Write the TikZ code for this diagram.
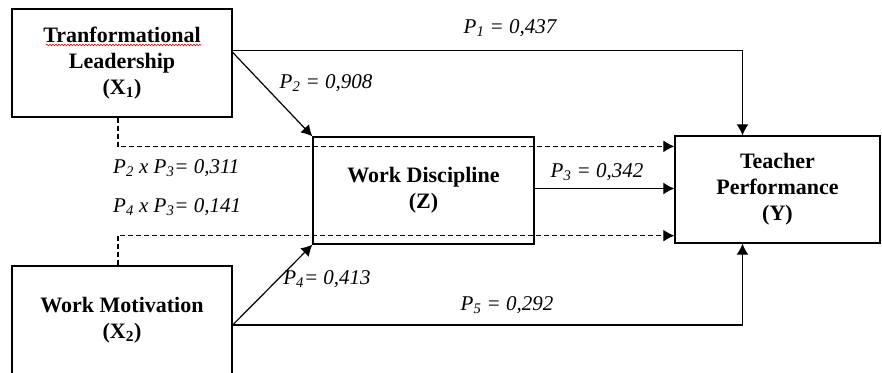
\documentclass[tikz,border=0pt]{standalone}
\usepackage{fontspec}
\setmainfont{Liberation Serif}
\usetikzlibrary{positioning,arrows.meta,decorations.pathmorphing}

\begin{document}
\begin{tikzpicture}[x=1pt, y=-1pt,
  blk/.style={draw, line width=1.3pt, minimum width=220pt, minimum height=108pt,
              inner sep=0pt, align=center, font=\bfseries\fontsize{22}{26}\selectfont},
  lbl/.style={font=\itshape\fontsize{21}{24}\selectfont, inner sep=0pt},
  arr/.style={-{Latex[length=11pt,width=12pt]}, line width=1.2pt},
  darr/.style={arr, dash pattern=on 5pt off 3pt},
]
  \clip (0,0) rectangle (882,372);

  % constructs
  \node[blk] (x1) at (122,63) {Tranformational\\Leadership\\(X\textsubscript{1})};
  \node[blk, minimum width=221pt, minimum height=107pt] (z) at (423.5,190.5) {Work Discipline\\(Z)};
  \node[blk, minimum width=205pt, minimum height=107pt] (ty) at (777.5,189.5) {Teacher\\Performance\\(Y)};
  \node[blk] (x2) at (122,320) {Work Motivation\\(X\textsubscript{2})};

  % spelling mark
  \draw[red, line width=0.6pt, decorate, decoration={snake, segment length=3pt, amplitude=0.8pt}]
    (46,45) -- (201,45);

  % paths
  \draw[arr] ([yshift=-42pt]x1.north east) -| ([xshift=-35pt]ty.north);
  \draw[arr] ([yshift=-44pt]x1.north east) -- (z.north west);
  \draw[darr] ([xshift=-4pt]x1.south) |- ([yshift=-11pt]ty.north west);
  \draw[arr] ([yshift=2pt]z.east) -- ([yshift=2pt]z.east -| ty.west);
  \draw[darr] ([xshift=-4pt]x2.north) |- ([yshift=8pt]ty.south west);
  \draw[arr] ([yshift=-5pt]x2.east) -- (z.south west);
  \draw[arr] ([yshift=-5pt]x2.east) -| ([xshift=-35pt]ty.south);

  % coefficients
  \node[lbl] (p1) at (510,28) {P\textsubscript{1} = 0,437};
  \node[lbl] (p2) at (326,83) {P\textsubscript{2} = 0,908};
  \node[lbl, anchor=west] (p23) at (113,168) {P\textsubscript{2} x P\textsubscript{3}= 0,311};
  \node[lbl, anchor=west] (p43) at (113,207) {P\textsubscript{4} x P\textsubscript{3}= 0,141};
  \node[lbl] (p3) at (597,172) {P\textsubscript{3} = 0,342};
  \node[lbl] (p4) at (327,279) {P\textsubscript{4}= 0,413};
  \node[lbl] (p5) at (507,305) {P\textsubscript{5} = 0,292};
\end{tikzpicture}
\end{document}
